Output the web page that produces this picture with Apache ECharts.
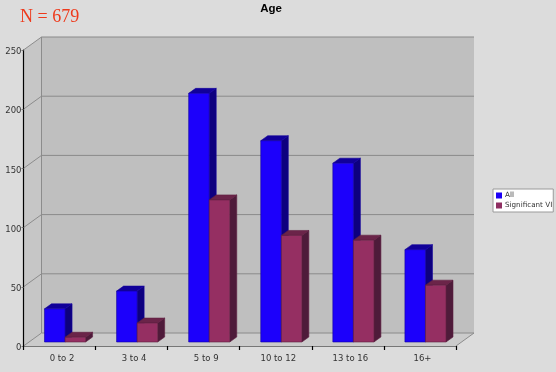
<!DOCTYPE html>
<html><head><meta charset="utf-8">
<style>html,body{margin:0;padding:0;background:#dcdcdc}#c{width:556px;height:372px}</style>
<script src="https://cdn.jsdelivr.net/npm/echarts@6/dist/echarts.min.js"></script>
</head><body><div id="c"></div>
<script>
const categories = ['0 to 2','3 to 4','5 to 9','10 to 12','13 to 16','16+'];
const allValues = [28,43,210,170,151,78];
const viValues = [4,16,120,90,86,48];
const yTicks = [0,50,100,150,200,250];

const WALL = [18,-13], BAR = [7,-5], FRONT = [5.5,-4], BARFRAC = 0.285;
const chart = echarts.init(document.getElementById('c'),null,{renderer:'canvas'});

function poly(points, fill, stroke, lw){
  return {type:'polygon',shape:{points},style:{fill,stroke:stroke||fill,lineWidth:lw===undefined?1:lw}};
}
function line(x1,y1,x2,y2,c){
  return {type:'line',shape:{x1,y1,x2,y2},style:{stroke:c,lineWidth:1}};
}
function wallItem(params, api){
  const cs = params.coordSys, v = api.value(0), y = api.coord([0,v])[1];
  const L = cs.x, R = cs.x+cs.width, B = cs.y+cs.height, T = cs.y, d = WALL;
  const ch = [];
  if(params.dataIndex===0){
    ch.push(poly([[L+d[0],T+d[1]],[R+d[0],T+d[1]],[R+d[0],B+d[1]],[L+d[0],B+d[1]]],'#bfbfbf','#bfbfbf',0));
    ch.push(poly([[L,T],[L+d[0],T+d[1]],[L+d[0],B+d[1]],[L,B]],'#c6c6c6','#c6c6c6',0));
    ch.push(poly([[L,B],[L+d[0],B+d[1]],[R+d[0],B+d[1]],[R,B]],'#cbcbcb','#cbcbcb',0));
    ch.push(line(L+d[0],T+d[1],L+d[0],B+d[1],'#8c8c8c'));
    ch.push(line(R,B,R+d[0],B+d[1],'#8c8c8c'));
  }
  ch.push(line(L,y,L+d[0],y+d[1],'#8c8c8c'));
  ch.push(line(L+d[0],y+d[1],R+d[0],y+d[1],'#8a8a8a'));
  return {type:'group',children:ch};
}
function barRenderer(slot, front, side, top, edge){
  return function(params, api){
    const idx = api.value(0), val = api.value(1);
    const band = api.size([1,0])[0], w = band*BARFRAC;
    const c = api.coord([idx,val]), z = api.coord([idx,0]);
    const x0 = c[0]+FRONT[0]+(slot===0?-w:0), x1 = x0+w;
    const yT = c[1]+FRONT[1], yB = z[1]+FRONT[1];
    const dx = BAR[0], dy = BAR[1];
    return {type:'group',children:[
      poly([[x1,yT],[x1+dx,yT+dy],[x1+dx,yB+dy],[x1,yB]],side,edge,0.6),
      poly([[x0,yT],[x0+dx,yT+dy],[x1+dx,yT+dy],[x1,yT]],top,edge,0.6),
      poly([[x0,yT],[x1,yT],[x1,yB],[x0,yB]],front,edge,0.6)
    ]};
  };
}
const labelFont = {fontFamily:'DejaVu Sans',fontSize:8.5,color:'#333'};
chart.setOption({
  animation:false,
  backgroundColor:'#dcdcdc',
  title:[
    {text:'Age',left:266,top:-2,textAlign:'center',textStyle:{fontFamily:'Liberation Sans',fontSize:11.5,fontWeight:'bold',color:'#000'}},
    {text:'N = 679',left:15,top:3,textStyle:{fontFamily:'Liberation Serif',fontSize:18,fontWeight:'normal',color:'#ee3a1c'}}
  ],
  grid:{left:23.5,right:100,top:50,bottom:26,containLabel:false},
  legend:{
    orient:'vertical',left:493,top:189,padding:[3,1,3,3],itemGap:3,itemWidth:6,itemHeight:6,
    backgroundColor:'#ffffff',borderColor:'#9a9a9a',borderWidth:1,borderRadius:0,selectedMode:false,
    textStyle:{fontFamily:'DejaVu Sans',fontSize:7.2,color:'#333',padding:[0,0,0,-2]},
    data:[{name:'All',icon:'rect',itemStyle:{color:'#1c00f5'}},{name:'Significant VI',icon:'rect',itemStyle:{color:'#8f2f62'}}]
  },
  xAxis:{type:'category',data:categories,z:5,
    axisLine:{show:true,lineStyle:{color:'#777',width:1.2}},
    axisTick:{show:true,length:4,alignWithLabel:false,lineStyle:{color:'#000',width:1.2}},
    axisLabel:Object.assign({margin:8,interval:0,padding:[0,0,0,5]},labelFont),splitLine:{show:false}},
  yAxis:{type:'value',min:0,max:250,interval:50,z:5,
    axisLine:{show:true,lineStyle:{color:'#000',width:1.2}},
    axisTick:{show:true,length:2,lineStyle:{color:'#777'}},
    axisLabel:Object.assign({margin:2,verticalAlign:'top',lineHeight:4},labelFont),splitLine:{show:false}},
  series:[
    {type:'custom',name:'walls',z:1,silent:true,renderItem:wallItem,encode:{y:0},data:yTicks.map(v=>[v]),legendHoverLink:false,clip:false},
    {type:'custom',name:'All',z:3,renderItem:barRenderer(0,'#1c00fb','#0d007f','#110099','#12009e'),encode:{x:0,y:1},
      itemStyle:{color:'#1c00f5'},data:allValues.map((v,i)=>[i,v])},
    {type:'custom',name:'Significant VI',z:4,renderItem:barRenderer(1,'#952f62','#4e1b3a','#6b2449','#5f2042'),encode:{x:0,y:1},
      itemStyle:{color:'#8f2f62'},data:viValues.map((v,i)=>[i,v])}
  ]
});
</script></body></html>
